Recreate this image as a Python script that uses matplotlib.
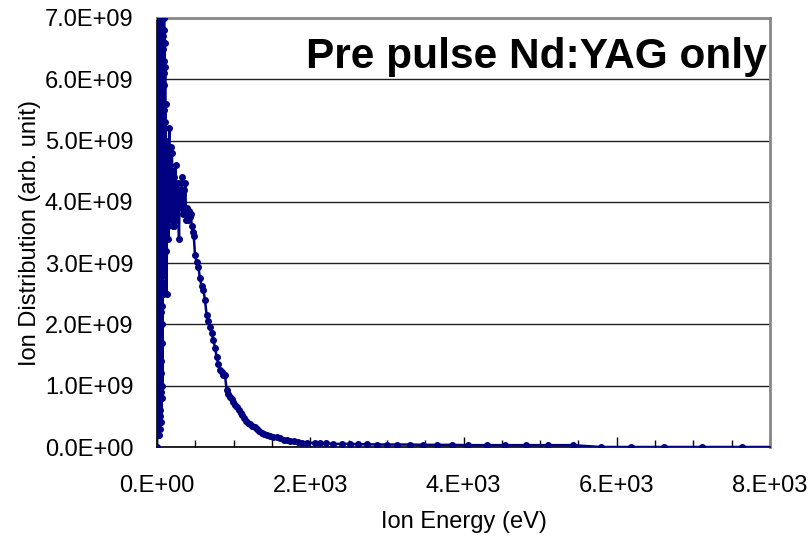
import matplotlib
matplotlib.use("Agg")
import matplotlib.pyplot as plt
from matplotlib.ticker import MultipleLocator, FuncFormatter

plt.rcParams['font.family'] = ['Liberation Sans', 'DejaVu Sans']

# ion energy (eV) and distribution (units of 1e9, arb.)
energy = [
    0, 1, 2, 3, 4, 5, 6, 7, 8, 9, 10, 11, 12, 13, 14, 15, 16, 17, 18, 19,
    20, 21, 22, 23, 24, 25, 26, 27, 28, 29, 30, 31, 32, 33, 34, 35, 36, 37, 38, 39,
    40, 41, 42, 43, 44, 45, 46, 47, 48, 49, 50, 51, 52, 53, 54, 55, 56, 57, 58, 59,
    60, 61, 62, 63, 64, 65, 66, 67, 68, 69, 70, 71, 72, 73, 74, 75, 76, 77, 78, 79,
    80, 81, 82, 83, 84, 85, 86, 87, 88, 89, 90, 91, 92, 93, 94, 95, 96, 97, 98, 99,
    100, 103, 106, 109, 112, 115, 118, 121, 124, 127, 130, 134, 138, 142, 146, 150,
    155, 160, 165, 170,
    176, 182, 188, 194, 200, 207, 214, 221, 228, 236, 244, 252, 260, 269, 278, 287,
    296, 306, 316, 326, 336, 347, 358, 369, 380, 392, 404, 416, 428, 441, 454, 467, 480,
    496, 518, 540, 561, 583, 605, 626, 648, 670, 692, 713, 735, 757, 779, 800, 822,
    844, 866, 887, 909, 931, 953, 975, 997, 1020, 1040, 1065, 1090, 1115, 1140, 1165,
    1190, 1215, 1245, 1275, 1301, 1335, 1370, 1400, 1431, 1470, 1510, 1562, 1610, 1660,
    1700, 1736, 1790, 1840, 1888, 1953, 2062, 2127, 2206, 2301, 2410, 2519, 2627, 2736,
    2875, 3005, 3136, 3301, 3475, 3649, 3853, 4053, 4301, 4540, 4814, 5097, 5431, 5790,
    6190, 6617, 7109, 7640, 8200,
]
distribution = [
    0.0, 2.8, 4.2, 7.4, 0.3, 5.1, 7.6, 0.7, 1.5, 7.9, 6.9, 0.2, 0.5, 6.1, 7.8, 1.2,
    2.4, 7.5, 6.2, 0.4, 0.9, 5.8, 7.5, 1.9, 3.6, 7.7, 5.4, 0.8, 0.2, 6.4, 7.7, 2.2,
    1.8, 7.3, 6.6, 0.5, 1.1, 5.5, 7.2, 1.6, 2.9, 7.6, 5.9, 0.3, 0.6, 6.9, 7.4, 2.7,
    1.4, 7.1, 6.3, 0.9, 2.2, 5.3, 7.1, 1.2, 0.4, 6.6, 5.7, 2.0, 2.6, 7.5, 6.8, 1.0,
    1.7, 5.9, 7.3, 2.3, 0.8, 6.2, 6.0, 2.7, 2.6, 7.4, 6.7, 3.2, 2.9, 5.6, 5.2, 2.5,
    2.5, 7.2, 6.5, 3.0, 3.1, 6.3, 7.0, 3.3, 2.8, 5.9, 5.5, 3.5, 7.2, 4.4, 3.4, 6.8,
    6.1, 3.7, 3.8, 5.3,
    6.6, 4.1, 6.2, 3.5, 5.6, 4.4, 5.0, 3.2, 4.7, 2.5, 4.6, 3.9, 4.9, 3.6, 4.5, 3.4,
    4.8, 5.2, 3.9, 4.6,
    4.1, 4.9, 3.7, 4.8, 4.3, 3.6, 4.5, 3.6, 4.4, 4.0, 4.6, 3.7, 4.2, 4.3, 3.9, 3.4,
    4.2, 4.0, 4.1, 4.4, 3.8, 4.2, 3.9, 4.3, 3.7, 3.9, 3.7, 3.85, 3.75, 3.8, 3.6, 3.5, 3.45,
    3.13, 3.02, 2.94, 2.75, 2.62, 2.56, 2.40, 2.15, 2.05, 1.96, 1.86, 1.75, 1.62, 1.47,
    1.35, 1.26, 1.22, 1.18, 1.17, 0.93, 0.86, 0.82, 0.78, 0.74, 0.69, 0.65, 0.60, 0.56,
    0.52, 0.48, 0.43, 0.39, 0.37, 0.34, 0.33, 0.30, 0.26, 0.23, 0.21, 0.20, 0.18, 0.17,
    0.16, 0.14, 0.12, 0.11, 0.10, 0.09, 0.08, 0.07, 0.07, 0.065, 0.06, 0.06, 0.05, 0.05,
    0.05, 0.045, 0.045, 0.04, 0.04, 0.04, 0.04, 0.035, 0.035, 0.035, 0.03, 0.03, 0.03,
    0.03, 0.03, 0.03, 0.0, 0.0, 0.0, 0.0, 0.0, 0.0,
]
y_scale = 1e9

fig = plt.figure(figsize=(8.11, 5.39), dpi=100)
ax = fig.add_axes([157 / 811, 92 / 539, 613 / 811, 429 / 539])

ax.plot(energy, [v * y_scale for v in distribution], color='#000080', lw=1.8,
        marker='o', markersize=4, zorder=3)

ax.set_xlim(0, 8000)
ax.set_ylim(0, 7e9)

# horizontal gridlines
ax.yaxis.set_major_locator(MultipleLocator(1e9))
ax.grid(axis='y', color='#202020', lw=1.0, zorder=1)
ax.xaxis.set_major_locator(MultipleLocator(2000))
ax.xaxis.set_minor_locator(MultipleLocator(500))

ax.xaxis.set_major_formatter(FuncFormatter(lambda v, p: f"{v:.0E}".replace("E", ".E")))
ax.yaxis.set_major_formatter(FuncFormatter(lambda v, p: f"{v:.1E}"))

ax.tick_params(axis='x', which='major', direction='in', length=7, width=1,
               labelsize=17, pad=20)
ax.tick_params(axis='x', which='minor', direction='in', length=5, width=1)
ax.tick_params(axis='y', length=0, labelsize=17, pad=17)

for s in ['top', 'right']:
    ax.spines[s].set_color('#888888')
    ax.spines[s].set_linewidth(2)
ax.spines['bottom'].set_linewidth(1.2)
ax.spines['left'].set_linewidth(1.2)

ax.set_xlabel('Ion Energy (eV)', fontsize=17, labelpad=10)
ax.set_ylabel('Ion Distribution (arb. unit)', fontsize=17, labelpad=3)

fig.text(767 / 811, 1 - 68 / 539, 'Pre pulse Nd:YAG only', ha='right',
         va='baseline', fontsize=30.5, fontweight='bold')

fig.savefig('out.png', dpi=100)
